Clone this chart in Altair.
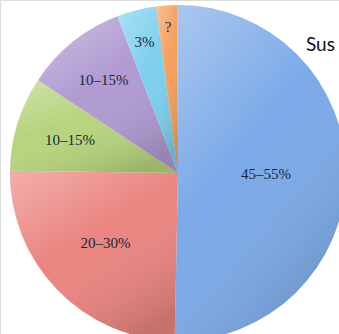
import altair as alt
import pandas as pd

# data
keys = ["a", "b", "c", "d", "e", "f"]
labels = ["45–55%", "20–30%", "10–15%", "10–15%", "3%", "?"]
shares = [50.4, 24.9, 9.1, 9.8, 3.8, 2.0]
colors = ["#7caae8", "#ea8580", "#b6d47d", "#b19bd2", "#7dd0ee", "#f5a05c"]
# layout: radial distance of each label from the centre (px)
label_radius = [88, 101, 113, 119, 135, 146]

df = pd.DataFrame({
    "key": keys,
    "label": labels,
    "share": shares,
    "order": list(range(len(keys))),
    "lr": label_radius,
})

CX, CY, R = 178, 173, 168
off = -0.005
theta_scale = alt.Scale(domain=[0, 100], range=[off, off + 6.283185307])
color = alt.Color("key:N", scale=alt.Scale(domain=keys, range=colors), legend=None)
order = alt.Order("order:Q")

base = alt.Chart(df)

slices = base.mark_arc(outerRadius=R).encode(
    theta=alt.Theta("share:Q", stack=True, scale=theta_scale),
    color=color, order=order,
    x=alt.value(CX), y=alt.value(CY),
)

shade = base.mark_arc(
    outerRadius=R,
    fill=alt.Gradient(
        gradient="linear", x1=0.1, y1=0, x2=0.7, y2=1,
        stops=[alt.GradientStop(color="rgba(255,255,255,0.32)", offset=0),
               alt.GradientStop(color="rgba(255,255,255,0.0)", offset=0.45),
               alt.GradientStop(color="rgba(0,0,0,0.15)", offset=1)],
    ),
).encode(theta=alt.Theta("share:Q", stack=True, scale=theta_scale),
         order=order, x=alt.value(CX), y=alt.value(CY))

text = base.transform_window(
    cum="sum(share)", sort=[alt.SortField("order")]
).transform_calculate(
    mid="datum.cum - datum.share / 2"
).mark_text(font="Liberation Serif", fontSize=15, color="#1c2638").encode(
    theta=alt.Theta("mid:Q", stack=None, scale=theta_scale),
    radius=alt.Radius("lr:Q", scale=None),
    text="label:N",
    x=alt.value(CX), y=alt.value(CY),
)

sus = alt.Chart(pd.DataFrame({"t": ["Sus"]})).mark_text(
    font="Lato", fontSize=19, color="#111111", align="left", baseline="alphabetic"
).encode(text="t:N", x=alt.value(306), y=alt.value(51))

chart = alt.layer(slices, shade, text, sus).properties(
    width=339, height=334,
    padding=0,
    autosize=alt.AutoSizeParams(type="none"),
).configure_view(stroke=None).configure(background="#ffffff")

chart.save("out.html", embed_options={"renderer": "svg", "actions": False})
